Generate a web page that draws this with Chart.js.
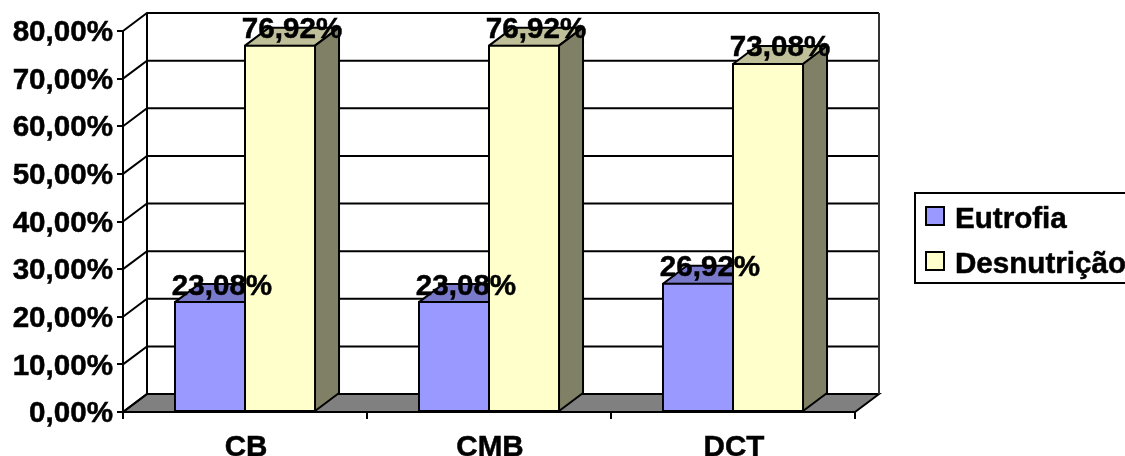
<!DOCTYPE html>
<html>
<head>
<meta charset="utf-8">
<style>
html,body{margin:0;padding:0;background:#fff;overflow:hidden}
canvas{display:block}
</style>
<script src="https://cdn.jsdelivr.net/npm/chart.js@4"></script>
</head>
<body>
<canvas id="c" width="1125" height="456"></canvas>
<script>
// Nutritional status by anthropometric measure
const categories = ['CB', 'CMB', 'DCT'];
const eutrofia = [23.08, 23.08, 26.92];
const desnutricao = [76.92, 76.92, 73.08];
const seriesNames = ['Eutrofia', 'Desnutrição'];
const tickValues = [0, 10, 20, 30, 40, 50, 60, 70, 80];

const DEPTH_X = 24, DEPTH_Y = 18;
const FAMILY = '"Liberation Sans", Arial, sans-serif';
const SIZE = 29.6;
const FONT = `bold ${SIZE}px ${FAMILY}`;
const HEAVY = 0.5;
const comma = v => v.toFixed(2).replace('.', ',') + '%';

function poly(ctx, pts, fill) {
  ctx.beginPath();
  pts.forEach((p, i) => i ? ctx.lineTo(p[0], p[1]) : ctx.moveTo(p[0], p[1]));
  ctx.closePath();
  ctx.fillStyle = fill;
  ctx.fill();
  ctx.stroke();
}

// Filled text with a hairline outline for a heavier bold
function heavyText(ctx, text, x, y) {
  ctx.save();
  ctx.lineWidth = HEAVY;
  ctx.strokeStyle = '#000';
  ctx.fillText(text, x, y);
  ctx.strokeText(text, x, y);
  ctx.restore();
}

// Shift a scale's tick labels by a small fixed offset
function nudgeLabels(scale, dx, dy) {
  if (scale._labelNudge) return;
  scale._labelNudge = true;
  const compute = scale._computeLabelItems;
  scale._computeLabelItems = function (area) {
    const items = compute.call(this, area);
    items.forEach(it => {
      it.options.translation[0] += dx;
      it.options.translation[1] += dy;
    });
    return items;
  };
}

// Back wall, floor and the slanted grid lines of the pseudo-3D box
const box3d = {
  id: 'box3d',
  beforeDraw(chart) {
    const { ctx, chartArea: a, scales: { y } } = chart;
    ctx.save();
    ctx.lineWidth = 2;
    ctx.strokeStyle = '#000';
    ctx.lineJoin = 'miter';
    poly(ctx, [[a.left, a.bottom], [a.left + DEPTH_X, a.bottom - DEPTH_Y],
      [a.right + DEPTH_X, a.bottom - DEPTH_Y], [a.right, a.bottom]], '#808080');
    ctx.beginPath();
    tickValues.forEach(v => {
      const py = y.getPixelForValue(v);
      ctx.moveTo(a.left, py);
      ctx.lineTo(a.left + DEPTH_X, py - DEPTH_Y);
      ctx.lineTo(a.right + DEPTH_X, py - DEPTH_Y);
    });
    const top = y.getPixelForValue(tickValues[tickValues.length - 1]) - DEPTH_Y;
    ctx.moveTo(a.left + DEPTH_X, a.bottom - DEPTH_Y);
    ctx.lineTo(a.left + DEPTH_X, top);
    ctx.stroke();
    ctx.beginPath();
    ctx.strokeStyle = '#333';
    ctx.moveTo(a.right + DEPTH_X, a.bottom - DEPTH_Y);
    ctx.lineTo(a.right + DEPTH_X, top);
    ctx.stroke();
    ctx.restore();
  },
  // Top and side faces go behind the front faces of the bars
  beforeDatasetsDraw(chart) {
    const { ctx } = chart;
    ctx.save();
    ctx.lineWidth = 2;
    ctx.strokeStyle = '#000';
    ctx.lineJoin = 'round';
    chart.data.datasets.forEach((ds, i) => {
      chart.getDatasetMeta(i).data.forEach(bar => {
        const l = bar.x - bar.width / 2, r = bar.x + bar.width / 2;
        poly(ctx, [[l, bar.y], [l + DEPTH_X, bar.y - DEPTH_Y],
          [r + DEPTH_X, bar.y - DEPTH_Y], [r, bar.y]], ds.topColor);
        poly(ctx, [[r, bar.y], [r + DEPTH_X, bar.y - DEPTH_Y],
          [r + DEPTH_X, bar.base - DEPTH_Y], [r, bar.base]], ds.sideColor);
      });
    });
    ctx.restore();
  },
  // Value labels above every bar, then the boxed legend
  afterDatasetsDraw(chart) {
    const { ctx } = chart;
    ctx.save();
    ctx.font = FONT;
    ctx.fillStyle = '#000';
    ctx.strokeStyle = '#000';
    ctx.textAlign = 'center';
    ctx.textBaseline = 'alphabetic';
    chart.data.datasets.forEach((ds, i) => {
      chart.getDatasetMeta(i).data.forEach((bar, j) => {
        heavyText(ctx, comma(ds.data[j]), bar.x + 12, bar.y - 7.5);
      });
    });
    ctx.textAlign = 'left';
    ctx.lineWidth = 2;
    ctx.strokeRect(915, 193, 216, 90);
    chart.data.datasets.forEach((ds, i) => {
      const sy = 207 + i * 45;
      ctx.fillStyle = ds.backgroundColor;
      ctx.fillRect(926, sy, 18, 18);
      ctx.strokeRect(926, sy, 18, 18);
      ctx.fillStyle = '#000';
      heavyText(ctx, ds.label, 955, sy + 21);
    });
    ctx.restore();
  }
};

new Chart(document.getElementById('c'), {
  type: 'bar',
  data: {
    labels: categories,
    datasets: [
      { label: seriesNames[0], data: eutrofia, backgroundColor: '#9999FF', topColor: '#7A7ACC', sideColor: '#4D4D80', borderColor: '#000', borderWidth: 2, borderSkipped: false, inflateAmount: 1 },
      { label: seriesNames[1], data: desnutricao, backgroundColor: '#FFFFCC', topColor: '#BFBF99', sideColor: '#808066', borderColor: '#000', borderWidth: 2, borderSkipped: false, inflateAmount: 1 }
    ]
  },
  options: {
    responsive: false,
    animation: false,
    devicePixelRatio: 1,
    layout: { autoPadding: false, padding: { left: 0, right: 270, top: 31, bottom: 0 } },
    plugins: { legend: { display: false }, tooltip: { enabled: false } },
    datasets: { bar: { categoryPercentage: 0.574, barPercentage: 1 } },
    scales: {
      x: {
        afterFit(s) { s.height = 44; nudgeLabels(s, 1, 0); },
        grid: { drawOnChartArea: false, color: '#000', lineWidth: 2, tickLength: 7 },
        border: { color: '#000', width: 2 },
        ticks: { color: '#000', textStrokeColor: '#000', textStrokeWidth: HEAVY, font: { family: FAMILY, size: SIZE, weight: 'bold' }, padding: 11, maxRotation: 0 }
      },
      y: {
        min: 0,
        max: 80,
        afterFit(s) { s.width = 123; nudgeLabels(s, 0, 2); },
        afterBuildTicks(s) { s.ticks = tickValues.map(value => ({ value })); },
        grid: { drawOnChartArea: false, color: '#000', lineWidth: 2, tickLength: 6 },
        border: { color: '#000', width: 2 },
        ticks: { color: '#000', textStrokeColor: '#000', textStrokeWidth: HEAVY, font: { family: FAMILY, size: SIZE, weight: 'bold' }, padding: 4, callback: v => comma(v) }
      }
    }
  },
  plugins: [box3d]
});
</script>
</body>
</html>
